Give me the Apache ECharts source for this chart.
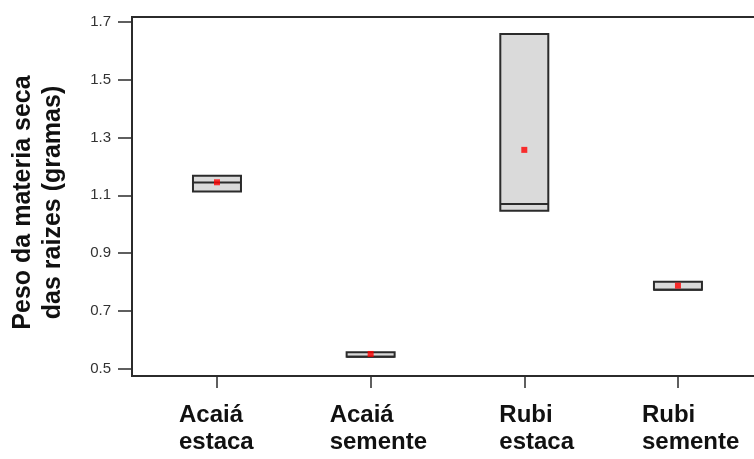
<!DOCTYPE html>
<html>
<head>
<meta charset="utf-8">
<script src="https://cdn.jsdelivr.net/npm/echarts@6/dist/echarts.min.js"></script>
<style>
html,body{margin:0;padding:0;background:#fff;}
#chart{width:754px;height:459px;}
</style>
</head>
<body>
<div id="chart"></div>
<script>
// ---- data ----
const categories = ['Acaiá\nestaca', 'Acaiá\nsemente', 'Rubi\nestaca', 'Rubi\nsemente'];
const positions = [1, 2, 3, 4];
const q1Values = [1.113, 0.542, 1.047, 0.774];
const medianValues = [1.144, 0.542, 1.070, 0.774];
const q3Values = [1.168, 0.558, 1.657, 0.801];
const meanValues = [1.145, 0.552, 1.257, 0.788];
const yTicks = [0.5, 0.7, 0.9, 1.1, 1.3, 1.5, 1.7];
const yTitle = 'Peso da materia seca\ndas raizes (gramas)';

// ---- layout / style ----
const FONT = "'Liberation Sans', Arial, sans-serif";
const X_MIN = 0.447, X_MAX = 4.612, GRID_W = 640;
const PX_PER_UNIT = GRID_W / (X_MAX - X_MIN);
// left edge of each category label relative to its tick, in pixels
const labelShiftPx = [-38, -41, -25, -36];
const labelAnchors = positions.map((p, i) => p + labelShiftPx[i] / PX_PER_UNIT);

const chart = echarts.init(document.getElementById('chart'), null, {renderer: 'canvas'});

const boxData = positions.map((p, i) => [p, q1Values[i], medianValues[i], q3Values[i]]);
const meanData = positions.map((p, i) => [p, meanValues[i]]);

function nearestIndex(arr, v) {
  let best = 0;
  for (let i = 1; i < arr.length; i++) if (Math.abs(arr[i] - v) < Math.abs(arr[best] - v)) best = i;
  return best;
}

chart.setOption({
  animation: false,
  backgroundColor: '#ffffff',
  grid: {
    left: 132, width: GRID_W, top: 17, bottom: 83,
    outerBoundsMode: 'none', containLabel: false,
    show: true, borderColor: '#2b2b2b', borderWidth: 2, backgroundColor: 'transparent'
  },
  xAxis: [
    {
      type: 'value',
      min: X_MIN, max: X_MAX,
      axisLine: {show: true, onZero: false, lineStyle: {color: '#2b2b2b', width: 2}},
      axisTick: {show: true, customValues: positions, length: 12, lineStyle: {color: '#2b2b2b', width: 1.5}},
      axisLabel: {show: false},
      splitLine: {show: false}
    },
    {
      type: 'value',
      position: 'bottom',
      offset: 0,
      min: X_MIN, max: X_MAX,
      axisLine: {show: false},
      axisTick: {show: false},
      axisLabel: {
        show: true, customValues: labelAnchors, margin: 26, align: 'left',
        formatter: v => {
          const idx = nearestIndex(labelAnchors, v);
          return categories[idx].split('\n').map(s => '{a|' + s + '}').join('\n');
        },
        rich: {a: {align: 'left', fontFamily: FONT, fontSize: 24, fontWeight: 'bold', color: '#111', lineHeight: 27}}
      },
      splitLine: {show: false}
    }
  ],
  yAxis: {
    type: 'value',
    min: 0.4758, max: 1.716,
    name: yTitle,
    nameLocation: 'middle',
    nameRotate: 90,
    nameGap: 64,
    nameTextStyle: {fontFamily: FONT, fontSize: 25, fontWeight: 'bold', color: '#111', lineHeight: 30, align: 'center', padding: [0, 12, 0, 0]},
    axisLine: {show: true, lineStyle: {color: '#2b2b2b', width: 2}},
    axisTick: {show: true, customValues: yTicks, length: 14, lineStyle: {color: '#2b2b2b', width: 1.5}},
    axisLabel: {
      show: true, customValues: yTicks, margin: 21,
      formatter: v => v.toFixed(1),
      fontFamily: FONT, fontSize: 15, color: '#333'
    },
    splitLine: {show: false}
  },
  series: [
    {
      type: 'custom',
      xAxisIndex: 0,
      data: boxData,
      encode: {x: 0, y: [1, 2, 3]},
      renderItem: function (params, api) {
        const x = api.value(0);
        const top = api.coord([x, api.value(3)]);
        const bot = api.coord([x, api.value(1)]);
        const med = api.coord([x, api.value(2)]);
        const hw = 24;
        return {
          type: 'group',
          children: [
            {type: 'rect', shape: {x: top[0] - hw, y: top[1], width: hw * 2, height: bot[1] - top[1]},
             style: {fill: '#dadada', stroke: '#2b2b2b', lineWidth: 2}},
            {type: 'line', shape: {x1: med[0] - hw, y1: med[1], x2: med[0] + hw, y2: med[1]},
             style: {stroke: '#2b2b2b', lineWidth: 2}}
          ]
        };
      },
      z: 2
    },
    {
      type: 'scatter',
      xAxisIndex: 0,
      data: meanData,
      symbol: 'rect',
      symbolSize: [6, 6],
      itemStyle: {color: '#ff0000'},
      z: 5
    }
  ]
});
</script>
</body>
</html>
